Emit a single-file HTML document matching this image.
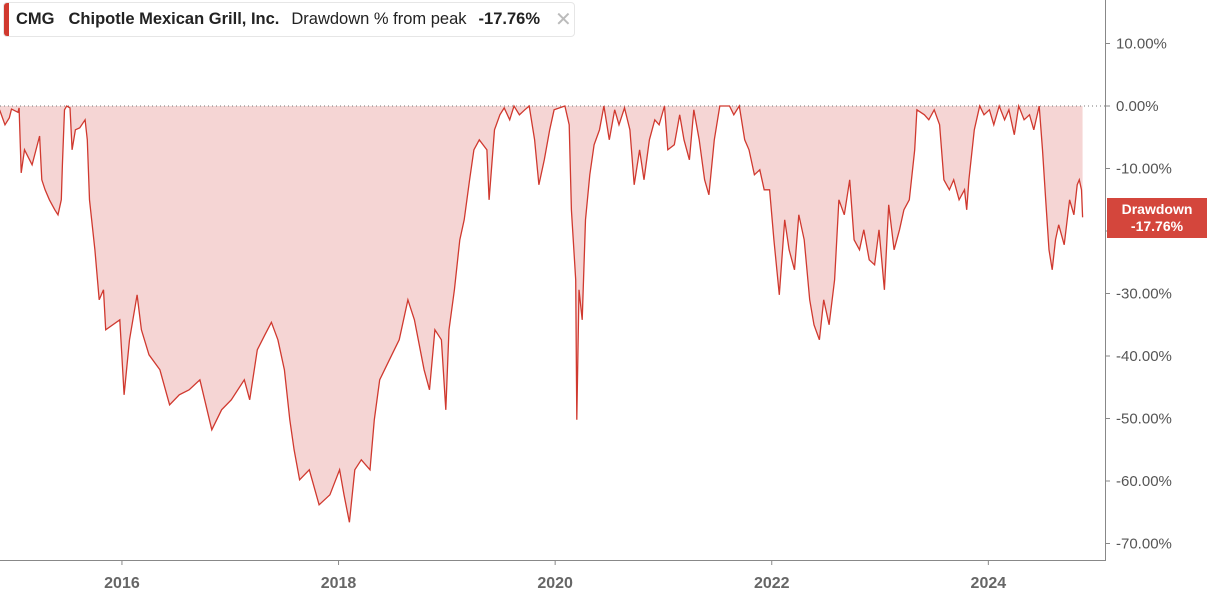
<!DOCTYPE html>
<html><head><meta charset="utf-8"><style>
body{margin:0;background:#fff;font-family:"Liberation Sans",sans-serif;}
#wrap{position:relative;width:1207px;height:596px;overflow:hidden}
#legend{position:absolute;left:3px;top:2px;width:572px;height:35px;border:1px solid #e6e6e6;border-radius:4px;background:#fff;box-sizing:border-box;display:flex;align-items:center;font-size:16.5px;color:#222}
#legend .bar{position:absolute;left:0;top:0;width:5px;height:100%;background:#d0392f;border-radius:3px 0 0 3px}
#badge{position:absolute;left:1107px;top:198px;width:100px;height:40px;background:#d4463c;color:#fff;font-weight:bold;font-size:14px;text-align:center;line-height:17px;padding-top:3px;box-sizing:border-box}
</style></head><body>
<div id="wrap">
<svg id="svg" width="1207" height="596"></svg>
<div id="legend"><div class="bar"></div>
<span style="margin-left:12px;font-weight:bold">CMG</span>
<span style="margin-left:14px;font-weight:bold">Chipotle Mexican Grill, Inc.</span>
<span style="margin-left:12px">Drawdown % from peak</span>
<span style="margin-left:12px;font-weight:bold">-17.76%</span>
<span style="margin-left:15px;color:#bbb;font-size:20px">✕</span></div>
<div id="badge">Drawdown<br>-17.76%</div>
</div>
<script>
const dates=[2014.87,2014.92,2014.96,2014.98,2015.04,2015.05,2015.07,2015.10,2015.17,2015.24,2015.26,2015.29,2015.33,2015.38,2015.41,2015.44,2015.45,2015.47,2015.49,2015.52,2015.54,2015.57,2015.61,2015.66,2015.68,2015.70,2015.75,2015.79,2015.83,2015.85,2015.98,2016.02,2016.07,2016.14,2016.18,2016.25,2016.35,2016.44,2016.53,2016.62,2016.72,2016.83,2016.92,2017.01,2017.13,2017.18,2017.25,2017.32,2017.38,2017.44,2017.50,2017.55,2017.59,2017.64,2017.73,2017.82,2017.92,2018.01,2018.05,2018.10,2018.15,2018.21,2018.29,2018.33,2018.38,2018.47,2018.56,2018.64,2018.70,2018.79,2018.84,2018.89,2018.95,2018.99,2019.02,2019.07,2019.12,2019.16,2019.21,2019.25,2019.30,2019.37,2019.39,2019.44,2019.49,2019.53,2019.58,2019.62,2019.67,2019.72,2019.76,2019.81,2019.85,2019.90,2019.95,2019.99,2020.09,2020.13,2020.15,2020.19,2020.20,2020.22,2020.25,2020.28,2020.32,2020.36,2020.41,2020.45,2020.50,2020.55,2020.59,2020.64,2020.69,2020.73,2020.78,2020.82,2020.87,2020.92,2020.96,2021.01,2021.04,2021.10,2021.15,2021.19,2021.24,2021.28,2021.33,2021.38,2021.42,2021.47,2021.52,2021.61,2021.65,2021.70,2021.75,2021.79,2021.84,2021.89,2021.93,2021.98,2022.02,2022.07,2022.12,2022.16,2022.21,2022.25,2022.30,2022.35,2022.39,2022.44,2022.48,2022.53,2022.58,2022.62,2022.67,2022.72,2022.76,2022.81,2022.85,2022.90,2022.95,2022.99,2023.04,2023.08,2023.13,2023.18,2023.22,2023.27,2023.32,2023.34,2023.41,2023.45,2023.50,2023.55,2023.59,2023.64,2023.68,2023.73,2023.78,2023.80,2023.82,2023.87,2023.92,2023.96,2024.01,2024.05,2024.10,2024.15,2024.19,2024.24,2024.28,2024.33,2024.38,2024.42,2024.47,2024.50,2024.53,2024.56,2024.59,2024.62,2024.65,2024.70,2024.75,2024.79,2024.82,2024.84,2024.86,2024.87];
const drawdown=[-0.6,-3,-1.9,-0.5,-1,-0.3,-10.7,-7,-9.4,-4.8,-11.8,-13.4,-15,-16.6,-17.4,-15,-9.4,-0.6,0,-0.3,-7,-3.8,-3.5,-2.2,-5.4,-15,-23,-31,-29.4,-35.8,-34.2,-46.2,-37.4,-30.2,-35.8,-39.8,-42.2,-47.8,-46.2,-45.4,-43.8,-51.8,-48.6,-47,-43.8,-47,-39,-36.6,-34.6,-37.4,-42.2,-50.2,-55,-59.8,-58.2,-63.8,-62.2,-58.2,-62.2,-66.6,-58.2,-56.6,-58.2,-50.2,-43.8,-40.6,-37.4,-31,-34.2,-42.2,-45.4,-35.8,-37.4,-48.6,-35.8,-29.4,-21.4,-18.2,-11.8,-7,-5.4,-7,-15,-3.8,-1.4,-0.3,-2.2,0,-1.4,-0.6,0,-5.4,-12.6,-8.6,-3.8,-0.6,0,-3,-16.6,-27.8,-50.2,-29.4,-34.2,-18.2,-11,-6.2,-3.8,0,-5.4,-0.6,-3,-0.3,-3.8,-12.6,-7,-11.8,-5.4,-2.2,-3,0,-7,-6.2,-1.4,-5.4,-8.6,-0.6,-5.4,-11.8,-14.2,-5.4,0,0,-1.4,0,-5.4,-7,-11,-10.2,-13.4,-13.4,-21.4,-30.2,-18.2,-23,-26.2,-17.4,-21.4,-31,-35,-37.4,-31,-35,-27.8,-15,-17.4,-11.8,-21.4,-23,-19.8,-24.6,-25.4,-19.8,-29.4,-15.8,-23,-19.8,-16.6,-15,-7,-0.6,-1.4,-2.2,-0.6,-3,-11.8,-13.4,-11.8,-15,-13.4,-16.6,-11.8,-3.8,0,-1.4,-0.6,-3,0,-2.2,-0.6,-4.6,0,-2.2,-1.4,-3.8,0,-7,-15,-23,-26.2,-21.4,-19,-22.2,-15,-17.4,-12.6,-11.8,-13.4,-17.8];
const yTicks=[10,0,-10,-20,-30,-40,-50,-60,-70];
const xTicks=[2016,2018,2020,2022,2024];
const NS="http://www.w3.org/2000/svg",svg=document.getElementById('svg');
const X=d=>(d-2014.874)*108.3, Y=v=>106-v*6.25;
function mk(t,a){const e=document.createElementNS(NS,t);for(const k in a)e.setAttribute(k,a[k]);svg.appendChild(e);return e;}
let pts=dates.map((d,i)=>X(d).toFixed(1)+','+Y(drawdown[i]).toFixed(1));
const area=mk('path',{d:'M'+X(dates[0])+','+Y(0)+' L'+pts.join(' L')+' L'+X(dates[dates.length-1])+','+Y(0)+'Z',fill:'#f5d5d4',stroke:'none'});


const zl=mk('line',{x1:0,x2:1105,y1:Y(0),y2:Y(0),stroke:'#777','stroke-dasharray':'1,3'});


const ln=mk('polyline',{points:pts.join(' '),fill:'none',stroke:'#d0392f','stroke-width':1.3});


const ay=mk('line',{x1:1105.5,x2:1105.5,y1:0,y2:560,stroke:'#888'});


const ax=mk('line',{x1:0,x2:1106,y1:560.5,y2:560.5,stroke:'#888'});


yTicks.forEach(v=>{
 const tk=mk('line',{x1:1105,x2:1110,y1:Y(v),y2:Y(v),stroke:'#888'});
 
 
 const t=mk('text',{x:1116,y:Y(v)+5,'font-size':15,fill:'#555','font-family':'Liberation Sans, sans-serif'});
 t.textContent=v.toFixed(2)+'%';
 
 
});
xTicks.forEach(d=>{
 const tk=mk('line',{x1:X(d),x2:X(d),y1:560,y2:565,stroke:'#888'});
 
 
 const t=mk('text',{x:X(d),y:588,'font-size':16,'font-weight':'bold',fill:'#666','text-anchor':'middle','font-family':'Liberation Sans, sans-serif'});
 t.textContent=d;
 
 
});
</script>
</body></html>
